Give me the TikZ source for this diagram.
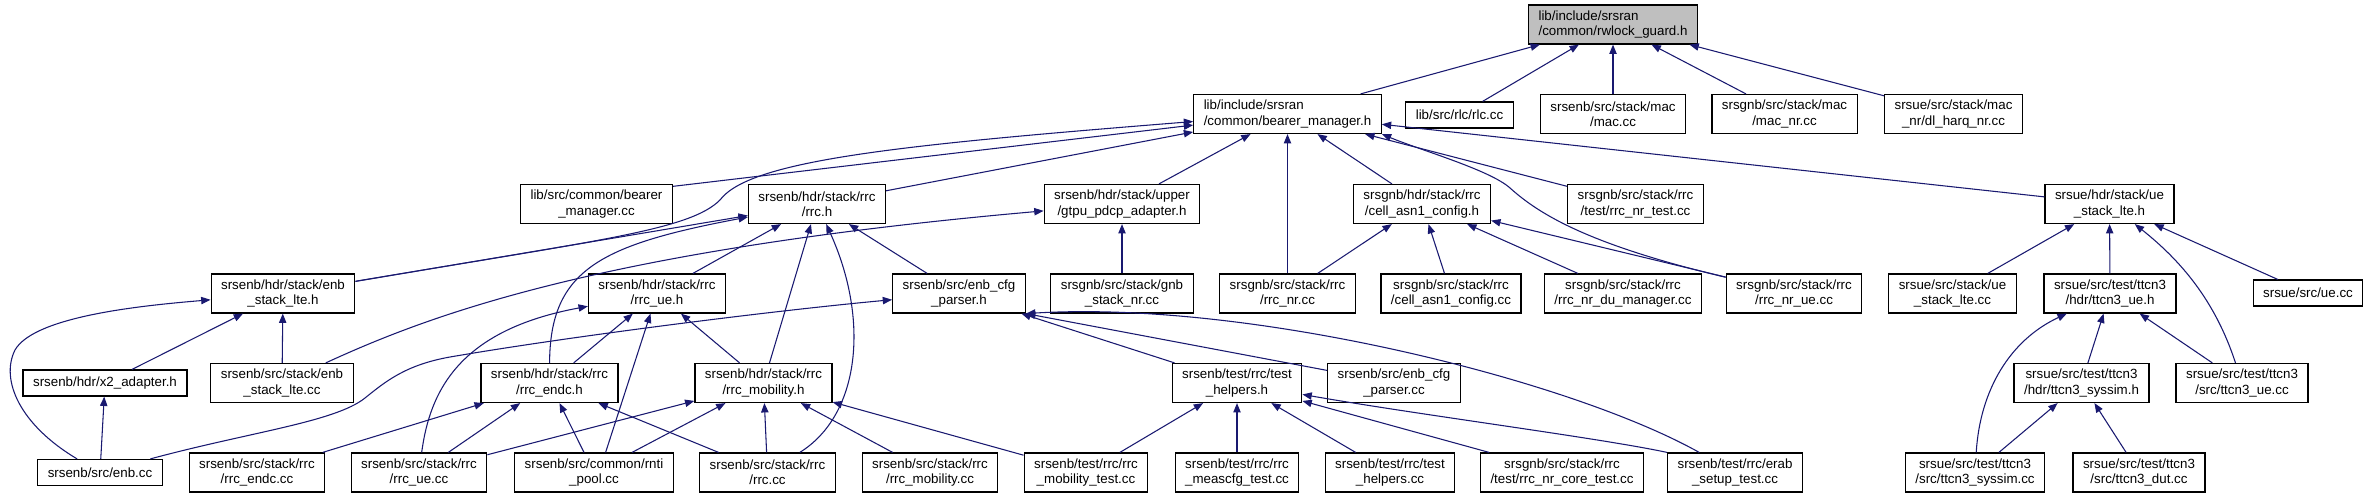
\documentclass[tikz,border=0pt]{standalone}
\usepackage{fontspec}
\setmainfont{Liberation Sans}
\usetikzlibrary{arrows.meta}
\definecolor{incblue}{RGB}{25,25,112}

\begin{document}
\begin{tikzpicture}[x=0.75pt,y=-0.75pt,
  hdr/.style={draw,line width=0.9pt,align=center,inner xsep=7.5pt,inner ysep=0pt,
    minimum height=29.25pt,font=\fontsize{10}{11.5}\selectfont},
  one/.style={hdr,minimum height=19.5pt},
  inc/.style={draw=incblue,line width=0.8pt,-{Triangle[length=7pt,width=5.5pt]}}]
\useasboundingbox (0,0) rectangle (2370,499);

% row 0
\node[hdr,align=left,fill=black!25] (rwg) at (1613,24.5) {lib/include/srsran\\/common/rwlock\_guard.h};
% row 1
\node[hdr,align=left] (bmh) at (1287.5,114) {lib/include/srsran\\/common/bearer\_manager.h};
\node[one] (rlc) at (1459.5,115) {lib/src/rlc/rlc.cc};
\node[hdr] (mac) at (1613,114) {srsenb/src/stack/mac\\/mac.cc};
\node[hdr] (macnr) at (1784.5,114) {srsgnb/src/stack/mac\\/mac\_nr.cc};
\node[hdr] (harq) at (1953.5,114) {srsue/src/stack/mac\\\_nr/dl\_harq\_nr.cc};
% row 2
\node[hdr] (bmcc) at (596.5,204) {lib/src/common/bearer\\\_manager.cc};
\node[hdr] (rrch) at (817,204) {srsenb/hdr/stack/rrc\\/rrc.h};
\node[hdr] (gtpu) at (1122,204) {srsenb/hdr/stack/upper\\/gtpu\_pdcp\_adapter.h};
\node[hdr] (cellh) at (1422,204) {srsgnb/hdr/stack/rrc\\/cell\_asn1\_config.h};
\node[hdr] (nrtest) at (1635.5,204) {srsgnb/src/stack/rrc\\/test/rrc\_nr\_test.cc};
\node[hdr] (uestkh) at (2109.5,204) {srsue/hdr/stack/ue\\\_stack\_lte.h};
% row 3
\node[hdr] (enbstkh) at (283,293.5) {srsenb/hdr/stack/enb\\\_stack\_lte.h};
\node[hdr] (rrcueh) at (657,293.5) {srsenb/hdr/stack/rrc\\/rrc\_ue.h};
\node[hdr] (cfgh) at (959,293.5) {srsenb/src/enb\_cfg\\\_parser.h};
\node[hdr] (gnbstk) at (1122,293.5) {srsgnb/src/stack/gnb\\\_stack\_nr.cc};
\node[hdr] (rrcnr) at (1287.5,293.5) {srsgnb/src/stack/rrc\\/rrc\_nr.cc};
\node[hdr] (cellcc) at (1451,293.5) {srsgnb/src/stack/rrc\\/cell\_asn1\_config.cc};
\node[hdr] (dumgr) at (1623,293.5) {srsgnb/src/stack/rrc\\/rrc\_nr\_du\_manager.cc};
\node[hdr] (nrue) at (1794,293.5) {srsgnb/src/stack/rrc\\/rrc\_nr\_ue.cc};
\node[hdr] (uestkcc) at (1952.5,293.5) {srsue/src/stack/ue\\\_stack\_lte.cc};
\node[hdr] (t3ueh) at (2110,293.5) {srsue/src/test/ttcn3\\/hdr/ttcn3\_ue.h};
\node[one] (ue) at (2308,293) {srsue/src/ue.cc};
% row 4
\node[one] (x2) at (105,383) {srsenb/hdr/x2\_adapter.h};
\node[hdr] (enbstkcc) at (282,383) {srsenb/src/stack/enb\\\_stack\_lte.cc};
\node[hdr] (endch) at (549.5,383) {srsenb/hdr/stack/rrc\\/rrc\_endc.h};
\node[hdr] (mobh) at (763.5,383) {srsenb/hdr/stack/rrc\\/rrc\_mobility.h};
\node[hdr] (helph) at (1237,383) {srsenb/test/rrc/test\\\_helpers.h};
\node[hdr] (cfgcc) at (1394,383) {srsenb/src/enb\_cfg\\\_parser.cc};
\node[hdr] (syssimh) at (2081.5,383) {srsue/src/test/ttcn3\\/hdr/ttcn3\_syssim.h};
\node[hdr] (t3uecc) at (2242,383) {srsue/src/test/ttcn3\\/src/ttcn3\_ue.cc};
% row 5
\node[one] (enbcc) at (100,472.5) {srsenb/src/enb.cc};
\node[hdr] (endccc) at (257,472.5) {srsenb/src/stack/rrc\\/rrc\_endc.cc};
\node[hdr] (rrcuecc) at (419,472.5) {srsenb/src/stack/rrc\\/rrc\_ue.cc};
\node[hdr] (rnti) at (594,472.5) {srsenb/src/common/rnti\\\_pool.cc};
\node[hdr] (rrccc) at (767.5,472.5) {srsenb/src/stack/rrc\\/rrc.cc};
\node[hdr] (mobcc) at (930,472.5) {srsenb/src/stack/rrc\\/rrc\_mobility.cc};
\node[hdr] (mobtest) at (1086,472.5) {srsenb/test/rrc/rrc\\\_mobility\_test.cc};
\node[hdr] (meastest) at (1237,472.5) {srsenb/test/rrc/rrc\\\_meascfg\_test.cc};
\node[hdr] (helpcc) at (1390,472.5) {srsenb/test/rrc/test\\\_helpers.cc};
\node[hdr] (coretest) at (1562,472.5) {srsgnb/src/stack/rrc\\/test/rrc\_nr\_core\_test.cc};
\node[hdr] (erab) at (1735,472.5) {srsenb/test/rrc/erab\\\_setup\_test.cc};
\node[hdr] (syssimcc) at (1975,472.5) {srsue/src/test/ttcn3\\/src/ttcn3\_syssim.cc};
\node[hdr] (dut) at (2139,472.5) {srsue/src/test/ttcn3\\/src/ttcn3\_dut.cc};

% into rwlock_guard.h
\draw[inc] (bmh) -- (rwg);
\draw[inc] (rlc) -- (rwg);
\draw[inc] (mac) -- (rwg);
\draw[inc] (macnr) -- (rwg);
\draw[inc] (harq) -- (rwg);
% into bearer_manager.h
\draw[inc] (bmcc.13) -- (bmh);
\draw[inc] (rrch) -- (bmh);
\draw[inc] (gtpu) -- (bmh);
\draw[inc] (rrcnr) -- (bmh);
\draw[inc] (cellh) -- (bmh);
\draw[inc] (nrtest) -- (bmh);
\draw[inc] (uestkh) -- (bmh);
\draw[inc] (enbstkh) .. controls (600,240) and (690,230) .. (720,200) .. controls (750,160) and (900,145) .. (bmh);
\draw[inc] (nrue) .. controls (1590,245) and (1540,215) .. (1510,188) .. controls (1490,170) and (1420,150) .. (bmh.south east);
% into rrc.h
\draw[inc] (enbstkh) -- (rrch);
\draw[inc] (rrcueh) -- (rrch);
\draw[inc] (cfgh) -- (rrch);
\draw[inc] (mobh) -- (rrch);
\draw[inc] (endch) .. controls (550,270) and (600,245) .. (rrch);
\draw[inc] (rrccc) .. controls (860,415) and (870,320) .. (rrch);
% into gtpu_pdcp_adapter.h
\draw[inc] (gnbstk) -- (gtpu);
\draw[inc] (enbstkcc) .. controls (430,315) and (600,250) .. (gtpu);
% into cell_asn1_config.h
\draw[inc] (rrcnr) -- (cellh);
\draw[inc] (cellcc) -- (cellh);
\draw[inc] (dumgr) -- (cellh);
\draw[inc] (nrue) -- (cellh);
% into ue_stack_lte.h
\draw[inc] (uestkcc) -- (uestkh);
\draw[inc] (t3ueh) -- (uestkh);
\draw[inc] (ue) -- (uestkh);
\draw[inc] (t3uecc) .. controls (2215,300) and (2180,260) .. (uestkh);
% into enb_stack_lte.h
\draw[inc] (x2) -- (enbstkh);
\draw[inc] (enbstkcc) -- (enbstkh);
\draw[inc] (enbcc) .. controls (20,425) and (0,380) .. (15,350) .. controls (35,315) and (150,305) .. (enbstkh);
\draw[inc] (enbcc) -- (x2);
% into rrc_ue.h
\draw[inc] (endch) -- (rrcueh);
\draw[inc] (mobh) -- (rrcueh);
\draw[inc] (rnti.60) -- (rrcueh);
\draw[inc] (rrcuecc) .. controls (430,390) and (460,330) .. (rrcueh);
% into enb_cfg_parser.h
\draw[inc] (helph) -- (cfgh);
\draw[inc] (cfgcc) -- (cfgh.south east);
\draw[inc] (enbcc) .. controls (250,432) and (335,422) .. (365,398) .. controls (385,382) and (405,365) .. (450,357) .. controls (560,338) and (760,312) .. (cfgh);
\draw[inc] (erab) .. controls (1570,380) and (1250,300) .. (cfgh.south east);
% into rrc_endc.h
\draw[inc] (endccc) -- (endch);
\draw[inc] (rrcuecc) -- (endch);
\draw[inc] (rnti) -- (endch);
\draw[inc] (rrccc) -- (endch);
% into rrc_mobility.h
\draw[inc] (rrcuecc) -- (mobh);
\draw[inc] (rnti) -- (mobh);
\draw[inc] (rrccc) -- (mobh);
\draw[inc] (mobcc) -- (mobh);
\draw[inc] (mobtest) -- (mobh);
% into test_helpers.h
\draw[inc] (mobtest) -- (helph);
\draw[inc] (meastest) -- (helph);
\draw[inc] (helpcc) -- (helph);
\draw[inc] (coretest) -- (helph);
\draw[inc] (erab.north west) .. controls (1600,438) and (1420,415) .. (helph);
% ttcn3 headers
\draw[inc] (syssimh) -- (t3ueh);
\draw[inc] (t3uecc) -- (t3ueh);
\draw[inc] (syssimcc) .. controls (1980,390) and (2010,340) .. (t3ueh);
\draw[inc] (syssimcc) -- (syssimh);
\draw[inc] (dut) -- (syssimh);
\end{tikzpicture}
\end{document}
